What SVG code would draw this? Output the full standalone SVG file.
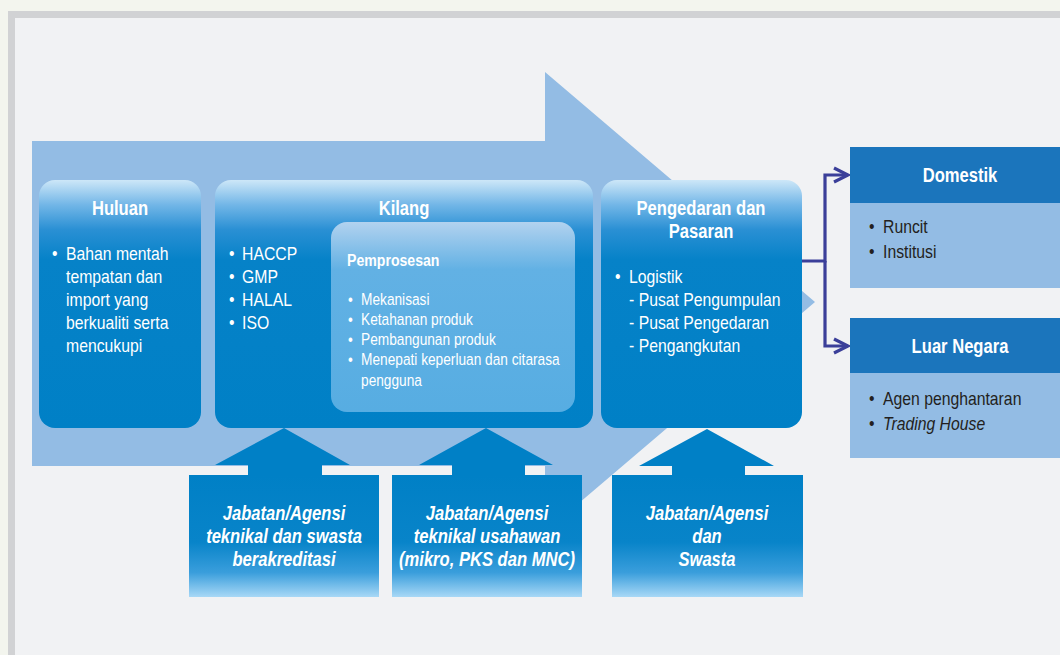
<svg xmlns="http://www.w3.org/2000/svg" width="1060" height="655" viewBox="0 0 1060 655">
<defs>
<style>
.t{font-family:"Liberation Sans",Arial,sans-serif;}
.w{fill:#ffffff;}
.d{fill:#231f20;}
.h{font-size:20px;font-weight:bold;}
.b{font-size:19px;}
.s{font-size:16.5px;}
.bi{font-size:20px;font-weight:bold;font-style:italic;}
.con{fill:none;stroke:#3b3f99;stroke-width:3.2;}
</style>
<linearGradient id="gNode" x1="0" y1="0" x2="0" y2="1">
<stop offset="0" stop-color="#cde7f8"/>
<stop offset="0.1" stop-color="#72b6e7"/>
<stop offset="0.2" stop-color="#2a90d4"/>
<stop offset="0.32" stop-color="#0682c8"/>
<stop offset="1" stop-color="#0080c6"/>
</linearGradient>
<linearGradient id="gInner" x1="0" y1="0" x2="0" y2="1">
<stop offset="0" stop-color="#b2d2ef"/>
<stop offset="0.25" stop-color="#62b1e4"/>
<stop offset="1" stop-color="#57ade2"/>
</linearGradient>
<linearGradient id="gBot" x1="0" y1="0" x2="0" y2="1">
<stop offset="0" stop-color="#0080c6"/>
<stop offset="0.55" stop-color="#0884c9"/>
<stop offset="0.8" stop-color="#3a9edc"/>
<stop offset="1" stop-color="#a8d8f6"/>
</linearGradient>
<marker id="chev" viewBox="0 0 20 20" refX="17" refY="10" markerWidth="20" markerHeight="20" markerUnits="userSpaceOnUse" orient="auto">
<polyline points="3,3 17,10 3,17" fill="none" stroke="#3b3f99" stroke-width="3.2"/>
</marker>
</defs>

<rect x="0" y="0" width="1060" height="655" fill="#f3f5ee"/>
<rect x="8" y="11" width="1060" height="660" fill="#d1d2d4"/>
<rect x="15" y="18" width="1060" height="660" fill="#f1f2f4"/>

<polygon id="bigArrow" points="32,141 545,141 545,72 815,302 545,532 545,466 32,466" fill="#93bce4"/>

<g id="agensi1">
<polygon points="215,465 284,428 350,465 322,465 322,475 248,475 248,465" fill="#0080c6"/>
<rect x="189" y="475" width="190" height="122" fill="url(#gBot)"/>
<text class="t w bi" text-anchor="middle" transform="matrix(.83 0 0 1 284 0)"><tspan x="0" y="520">Jabatan/Agensi</tspan><tspan x="0" y="543">teknikal dan swasta</tspan><tspan x="0" y="566">berakreditasi</tspan></text>
</g>
<g id="agensi2">
<polygon points="419,465 486,428 553,465 525,465 525,475 452,475 452,465" fill="#0080c6"/>
<rect x="392" y="475" width="190" height="122" fill="url(#gBot)"/>
<text class="t w bi" text-anchor="middle" transform="matrix(.83 0 0 1 487 0)"><tspan x="0" y="520">Jabatan/Agensi</tspan><tspan x="0" y="543">teknikal usahawan</tspan><tspan x="0" y="566">(mikro, PKS dan MNC)</tspan></text>
</g>
<g id="agensi3">
<polygon points="639,466 707,429 774,466 745,466 745,475 672,475 672,466" fill="#0080c6"/>
<rect x="612" y="475" width="191" height="122" fill="url(#gBot)"/>
<text class="t w bi" text-anchor="middle" transform="matrix(.83 0 0 1 707 0)"><tspan x="0" y="520">Jabatan/Agensi</tspan><tspan x="0" y="543">dan</tspan><tspan x="0" y="566">Swasta</tspan></text>
</g>

<g id="huluan">
<rect x="39" y="180" width="162" height="248" rx="16" fill="url(#gNode)"/>
<text class="t w h" text-anchor="middle" transform="matrix(.83 0 0 1 120 0)" x="0" y="215">Huluan</text>
<text class="t w b" transform="matrix(.83 0 0 1 52 0)"><tspan x="0" y="260">•</tspan><tspan x="16.9" y="260">Bahan mentah</tspan><tspan x="16.9" y="283">tempatan dan</tspan><tspan x="16.9" y="306">import yang</tspan><tspan x="16.9" y="329">berkualiti serta</tspan><tspan x="16.9" y="352">mencukupi</tspan></text>
</g>

<g id="kilang">
<rect x="215" y="180" width="378" height="248" rx="16" fill="url(#gNode)"/>
<text class="t w h" text-anchor="middle" transform="matrix(.83 0 0 1 404 0)" x="0" y="215">Kilang</text>
<text class="t w b" transform="matrix(.83 0 0 1 229 0)"><tspan x="0" y="260">•</tspan><tspan x="15.7" y="260">HACCP</tspan><tspan x="0" y="283">•</tspan><tspan x="15.7" y="283">GMP</tspan><tspan x="0" y="306">•</tspan><tspan x="15.7" y="306">HALAL</tspan><tspan x="0" y="329">•</tspan><tspan x="15.7" y="329">ISO</tspan></text>
</g>

<g id="pemprosesan">
<rect x="331" y="222" width="244" height="190" rx="16" fill="url(#gInner)"/>
<text class="t w" transform="matrix(.83 0 0 1 347 0)" x="0" y="266" font-size="17" font-weight="bold">Pemprosesan</text>
<text class="t w s" transform="matrix(.83 0 0 1 348 0)"><tspan x="0" y="305">•</tspan><tspan x="15.7" y="305">Mekanisasi</tspan><tspan x="0" y="325">•</tspan><tspan x="15.7" y="325">Ketahanan produk</tspan><tspan x="0" y="345">•</tspan><tspan x="15.7" y="345">Pembangunan produk</tspan><tspan x="0" y="365">•</tspan><tspan x="15.7" y="365">Menepati keperluan dan citarasa</tspan><tspan x="15.7" y="386">pengguna</tspan></text>
</g>

<g id="pengedaran">
<rect x="601" y="180" width="201" height="248" rx="16" fill="url(#gNode)"/>
<text class="t w h" text-anchor="middle" transform="matrix(.83 0 0 1 701 0)"><tspan x="0" y="215">Pengedaran dan</tspan><tspan x="0" y="238">Pasaran</tspan></text>
<text class="t w b" transform="matrix(.83 0 0 1 615 0)"><tspan x="0" y="283">•</tspan><tspan x="16.9" y="283">Logistik</tspan><tspan x="16.9" y="306">- Pusat Pengumpulan</tspan><tspan x="16.9" y="329">- Pusat Pengedaran</tspan><tspan x="16.9" y="352">- Pengangkutan</tspan></text>
</g>

<g id="connectors">
<path class="con" d="M802,261 H825 V175 H848" marker-end="url(#chev)"/>
<path class="con" d="M825,261 V346 H848" marker-end="url(#chev)"/>
</g>

<g id="domestik">
<rect x="850" y="147" width="215" height="56" fill="#1b75bc"/>
<rect x="850" y="203" width="215" height="85" fill="#93bce4"/>
<text class="t w h" text-anchor="middle" transform="matrix(.83 0 0 1 960 0)" x="0" y="182">Domestik</text>
<text class="t d b" transform="matrix(.83 0 0 1 869 0)"><tspan x="0" y="233">•</tspan><tspan x="16.9" y="233">Runcit</tspan><tspan x="0" y="258">•</tspan><tspan x="16.9" y="258">Institusi</tspan></text>
</g>

<g id="luarNegara">
<rect x="850" y="318" width="215" height="55" fill="#1b75bc"/>
<rect x="850" y="373" width="215" height="85" fill="#93bce4"/>
<text class="t w h" text-anchor="middle" transform="matrix(.83 0 0 1 960 0)" x="0" y="353">Luar Negara</text>
<text class="t d b" transform="matrix(.83 0 0 1 869 0)"><tspan x="0" y="405">•</tspan><tspan x="16.9" y="405">Agen penghantaran</tspan><tspan x="0" y="430">•</tspan><tspan x="16.9" y="430" font-style="italic">Trading House</tspan></text>
</g>
</svg>
